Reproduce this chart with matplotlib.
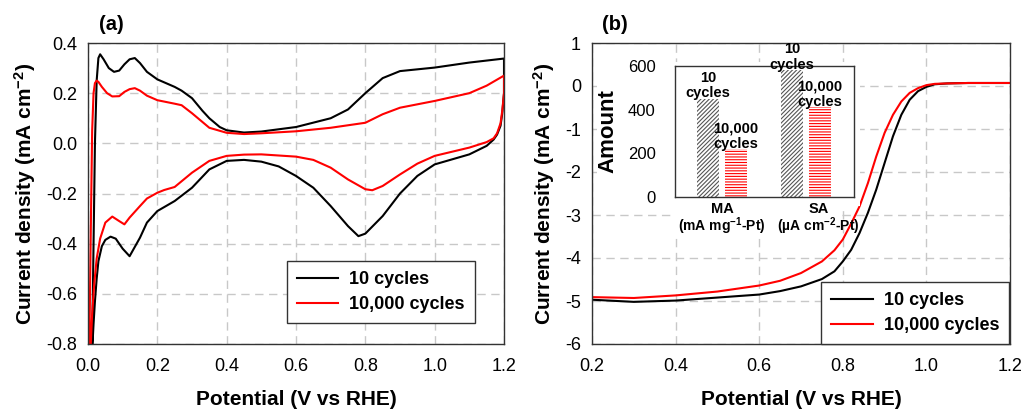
import matplotlib
matplotlib.use('Agg')
import matplotlib.pyplot as plt
from matplotlib.patches import Rectangle
from matplotlib.ticker import FormatStrFormatter
import matplotlib.transforms as mtransforms

plt.rcParams['font.family'] = ['Liberation Sans', 'DejaVu Sans']
plt.rcParams['axes.unicode_minus'] = False
plt.rcParams['mathtext.fontset'] = 'custom'
plt.rcParams['mathtext.rm'] = 'Liberation Sans:bold'
plt.rcParams['mathtext.default'] = 'rm'
plt.rcParams['hatch.linewidth'] = 0.8

# (a) cyclic voltammograms: anodic sweep then cathodic sweep
cv10_x = [0.012, 0.016, 0.02, 0.025, 0.03, 0.035, 0.045, 0.06, 0.075, 0.09, 0.105, 0.12, 0.135, 0.15,
          0.17, 0.2, 0.25, 0.27, 0.3, 0.33, 0.35, 0.38, 0.4, 0.45, 0.5, 0.6, 0.7, 0.75, 0.8, 0.85,
          0.9, 0.95, 1.0, 1.1, 1.2,
          1.2, 1.195, 1.19, 1.18, 1.17, 1.15, 1.1, 1.0, 0.95, 0.9, 0.85, 0.8, 0.78, 0.75, 0.7, 0.65,
          0.6, 0.55, 0.5, 0.45, 0.4, 0.35, 0.3, 0.25, 0.2, 0.17, 0.15, 0.12, 0.1, 0.08, 0.065, 0.05,
          0.04, 0.03, 0.025, 0.02, 0.016, 0.013]
cv10_y = [-0.8, -0.4, 0.0, 0.25, 0.34, 0.355, 0.335, 0.3, 0.285, 0.29, 0.315, 0.335, 0.34, 0.32,
          0.285, 0.255, 0.225, 0.21, 0.18, 0.13, 0.1, 0.065, 0.052, 0.043, 0.047, 0.065, 0.1, 0.135,
          0.2, 0.26, 0.288, 0.295, 0.302, 0.322, 0.338,
          0.2, 0.12, 0.07, 0.035, 0.015, -0.01, -0.044, -0.084, -0.13, -0.2, -0.29, -0.36, -0.37,
          -0.33, -0.25, -0.177, -0.13, -0.092, -0.073, -0.066, -0.07, -0.104, -0.177, -0.23, -0.27,
          -0.316, -0.376, -0.45, -0.42, -0.38, -0.372, -0.385, -0.41, -0.47, -0.54, -0.63, -0.72,
          -0.8]
cv10k_x = [0.004, 0.008, 0.012, 0.016, 0.02, 0.025, 0.03, 0.04, 0.055, 0.07, 0.09, 0.105, 0.12,
           0.135, 0.15, 0.17, 0.2, 0.25, 0.27, 0.3, 0.35, 0.4, 0.45, 0.5, 0.6, 0.7, 0.8, 0.85, 0.9,
           1.0, 1.1, 1.15, 1.2,
           1.2, 1.195, 1.19, 1.18, 1.17, 1.15, 1.1, 1.0, 0.95, 0.9, 0.85, 0.82, 0.8, 0.75, 0.7, 0.65,
           0.6, 0.5, 0.45, 0.4, 0.35, 0.3, 0.25, 0.22, 0.2, 0.17, 0.15, 0.12, 0.105, 0.09, 0.07,
           0.05, 0.035, 0.025, 0.018, 0.012, 0.008]
cv10k_y = [-0.8, -0.35, 0.05, 0.2, 0.24, 0.25, 0.245, 0.225, 0.2, 0.187, 0.188, 0.205, 0.216,
           0.22, 0.21, 0.19, 0.172, 0.158, 0.152, 0.12, 0.062, 0.042, 0.037, 0.04, 0.048, 0.062,
           0.082, 0.116, 0.142, 0.169, 0.2, 0.23, 0.27,
           0.2, 0.13, 0.08, 0.04, 0.02, 0.005, -0.017, -0.05, -0.081, -0.124, -0.17, -0.187,
           -0.183, -0.144, -0.097, -0.066, -0.053, -0.044, -0.045, -0.05, -0.07, -0.117, -0.174,
           -0.186, -0.197, -0.22, -0.25, -0.296, -0.323, -0.31, -0.292, -0.316, -0.38, -0.46,
           -0.56, -0.68, -0.8]

# (b) linear sweep voltammograms
lsv_x = [0.2, 0.3, 0.4, 0.5, 0.6, 0.65, 0.7, 0.75, 0.78, 0.8, 0.82, 0.84, 0.86, 0.88, 0.9, 0.92,
         0.94, 0.96, 0.98, 1.0, 1.02, 1.05, 1.1, 1.2]
lsv10_y = [-4.97, -5.02, -4.99, -4.92, -4.85, -4.77, -4.66, -4.49, -4.31, -4.08, -3.81, -3.42,
           -2.95, -2.41, -1.79, -1.17, -0.67, -0.32, -0.12, -0.02, 0.04, 0.06, 0.07, 0.07]
lsv10k_y = [-4.91, -4.93, -4.87, -4.78, -4.64, -4.53, -4.35, -4.08, -3.82, -3.57, -3.2, -2.8,
            -2.26, -1.64, -1.09, -0.67, -0.36, -0.16, -0.05, 0.02, 0.05, 0.06, 0.07, 0.07]

# inset: activities
groups = ['MA', 'SA']
units = ['(mA mg$^{-1}$-Pt)', '(µA cm$^{-2}$-Pt)']
act10 = [450, 580]
act10k = [220, 412]

fig = plt.figure(figsize=(10.24, 4.09), dpi=100)
axa = fig.add_axes([88/1024, 65/409, 416/1024, 301/409])
axb = fig.add_axes([592/1024, 65/409, 418/1024, 301/409])

grid_kw = dict(color='#c8c8c8', linestyle=(0, (6, 4)), linewidth=1.0)
leg_kw = dict(fancybox=False, edgecolor='#333333', framealpha=1,
              prop={'weight': 'bold', 'size': 13}, handlelength=2.3, handletextpad=0.6,
              borderpad=0.55, labelspacing=0.45, borderaxespad=0)
for ax in (axa, axb):
    ax.grid(True, **grid_kw)
    ax.set_axisbelow(True)
    for s in ax.spines.values():
        s.set_color('#333333')
        s.set_linewidth(1.0)
    ax.tick_params(length=0, labelsize=13)
    ax.tick_params(axis='y', pad=8)
    ax.tick_params(axis='x', pad=10)
    ax.set_xlabel('Potential (V vs RHE)', fontsize=15, fontweight='bold', labelpad=11)
    ax.set_ylabel('Current density (mA cm$^{-2}$)', fontsize=15, fontweight='bold', labelpad=6)

axa.plot(cv10_x, cv10_y, color='black', lw=1.5, label='10 cycles')
axa.plot(cv10k_x, cv10k_y, color='red', lw=1.5, label='10,000 cycles')
axa.set_xlim(0, 1.2)
axa.set_ylim(-0.8, 0.4)
axa.set_xticks([0.0, 0.2, 0.4, 0.6, 0.8, 1.0, 1.2])
axa.set_yticks([-0.8, -0.6, -0.4, -0.2, 0.0, 0.2, 0.4])
axa.xaxis.set_major_formatter(FormatStrFormatter('%.1f'))
axa.yaxis.set_major_formatter(FormatStrFormatter('%.1f'))
leg = axa.legend(loc='lower left', bbox_to_anchor=(0.478, 0.07), **leg_kw)
leg.get_frame().set_linewidth(1.0)

axb.plot(lsv_x, lsv10_y, color='black', lw=1.5, label='10 cycles')
axb.plot(lsv_x, lsv10k_y, color='red', lw=1.5, label='10,000 cycles')
axb.set_xlim(0.2, 1.2)
axb.set_ylim(-6, 1)
axb.set_xticks([0.2, 0.4, 0.6, 0.8, 1.0, 1.2])
axb.set_yticks([-6, -5, -4, -3, -2, -1, 0, 1])
axb.xaxis.set_major_formatter(FormatStrFormatter('%.1f'))
leg = axb.legend(loc='lower right', bbox_to_anchor=(0.998, 0.0), **leg_kw)
leg.get_frame().set_linewidth(1.0)

fig.text(111/1024, 1 - 25/409, '(a)', fontsize=14.5, fontweight='bold', ha='center', va='center')
fig.text(615/1024, 1 - 25/409, '(b)', fontsize=14.5, fontweight='bold', ha='center', va='center')

# white backing of the pasted inset
for x0, y0, x1, y1 in [(597, 62, 860, 206), (672, 206, 841, 236)]:
    fig.add_artist(Rectangle((x0/1024, 1 - y1/409), (x1 - x0)/1024, (y1 - y0)/409,
                             transform=fig.transFigure, facecolor='white', edgecolor='none',
                             zorder=0.5))

# inset bar chart
axi = fig.add_axes([675/1024, 1 - 197/409, 179/1024, 131/409])
axi.set_zorder(1)
pos = [0, 1]
w = 0.26
b1 = axi.bar([p - 0.165 for p in pos], act10, w, color='white', edgecolor='#555555',
             hatch='////////', linewidth=0)
b2 = axi.bar([p + 0.165 for p in pos], act10k, w, color='white', edgecolor='red',
             hatch='------', linewidth=0)
for rect, v in zip(b1, act10):
    axi.text(rect.get_x() + rect.get_width() / 2, v - 8, '10\ncycles', ha='center', va='bottom',
             fontsize=10.5, fontweight='bold', linespacing=1.15)
for rect, v in zip(b2, act10k):
    axi.text(rect.get_x() + rect.get_width() / 2, v - 8, '10,000\ncycles', ha='center', va='bottom',
             fontsize=10.5, fontweight='bold', linespacing=1.15)
axi.set_xlim(-0.56, 1.57)
axi.set_ylim(0, 600)
axi.set_xticks([])
trans = mtransforms.blended_transform_factory(axi.transData, axi.transAxes)
for p, g, u in zip([0.0, 1.15], groups, units):
    axi.text(p, -0.04, g, transform=trans, ha='center', va='top', fontsize=10.5,
             fontweight='bold')
    axi.text(p, -0.14, u, transform=trans, ha='center', va='top', fontsize=10,
             fontweight='bold')
axi.set_yticks([0, 200, 400, 600])
axi.tick_params(length=0, labelsize=12)
axi.tick_params(axis='y', pad=14)
axi.set_ylabel('Amount', fontsize=16, fontweight='bold', labelpad=7)
for s in axi.spines.values():
    s.set_color('#333333')
    s.set_linewidth(1.0)

fig.savefig('out.png', dpi=100)
